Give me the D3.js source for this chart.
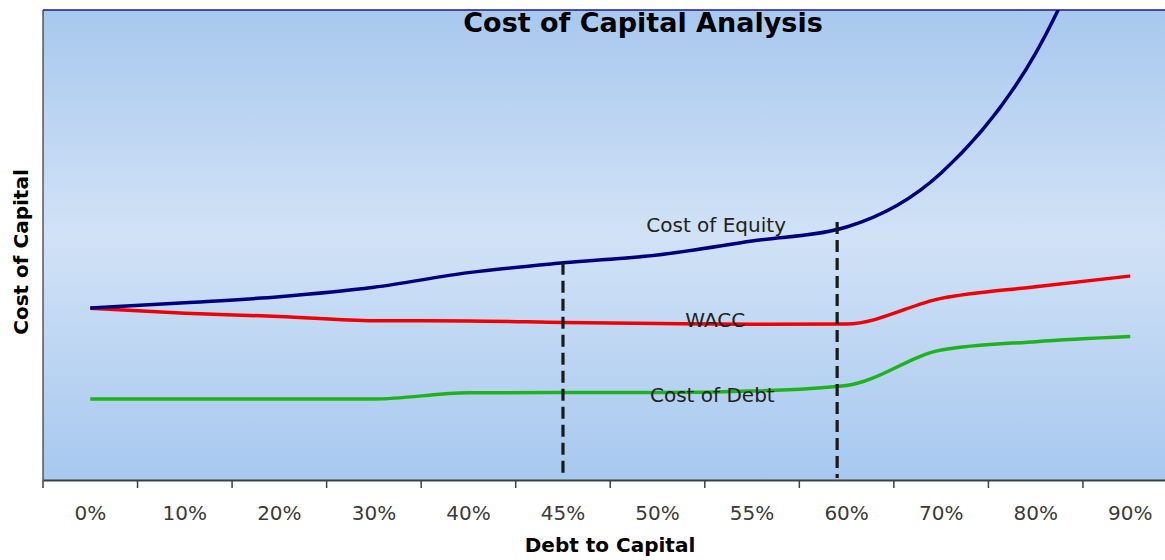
<!DOCTYPE html>
<html>
<head>
<meta charset="utf-8">
<script src="https://cdn.jsdelivr.net/npm/d3@7"></script>
<style>
  html, body { margin: 0; padding: 0; background: #ffffff; }
  svg { display: block; }
  text { font-family: "DejaVu Sans", Verdana, sans-serif; }
</style>
</head>
<body>
<svg id="chart" width="1165" height="560"></svg>
<script>
// ---- data ----
const categories = ["0%", "10%", "20%", "30%", "40%", "45%", "50%", "55%", "60%", "70%", "80%", "90%"];
const costOfEquity = [9.15, 9.43, 9.75, 10.25, 11.03, 11.55, 11.97, 12.71, 13.46, 16.33, 22.71, 34.0];
const wacc         = [9.13, 8.87, 8.70, 8.47, 8.46, 8.38, 8.32, 8.28, 8.30, 9.66, 10.28, 10.85];
const costOfDebt   = [4.31, 4.31, 4.31, 4.31, 4.64, 4.65, 4.65, 4.73, 5.03, 6.91, 7.36, 7.63];
const seriesNames  = ["Cost of Equity", "WACC", "Cost of Debt"];
// vertical marker positions (in category-index units) and their top values
const markerIndex  = [5, 7.9];
const markerTop    = [11.55, 13.72];
// in-chart label anchors (category index, value)
const labelIndex   = [6.62, 6.61, 6.58];
const labelValue   = [13.5, 8.45, 4.45];

// ---- layout ----
const svg = d3.select("#chart");
const W = 1165, H = 560;
const plot = { left: 43, top: 10, right: 1177.5, bottom: 480 };

const x = d3.scaleBand().domain(categories).range([plot.left, plot.right]).paddingInner(0).paddingOuter(0);
const xIdx = d3.scaleLinear().domain([-0.5, categories.length - 0.5]).range([plot.left, plot.right]);
const y = d3.scaleLinear().domain([0, 25]).range([plot.bottom, plot.top]);

// background gradient
const defs = svg.append("defs");
const grad = defs.append("linearGradient").attr("id", "bg").attr("x1", 0).attr("y1", 0).attr("x2", 0).attr("y2", 1);
grad.append("stop").attr("offset", "0%").attr("stop-color", "#a8c8ee");
grad.append("stop").attr("offset", "48%").attr("stop-color", "#d1e2f6");
grad.append("stop").attr("offset", "100%").attr("stop-color", "#a7c8ef");
defs.append("clipPath").attr("id", "clip").append("rect")
  .attr("x", plot.left).attr("y", plot.top)
  .attr("width", plot.right - plot.left).attr("height", plot.bottom - plot.top);

svg.append("rect")
  .attr("x", plot.left).attr("y", plot.top)
  .attr("width", plot.right - plot.left).attr("height", plot.bottom - plot.top)
  .attr("fill", "url(#bg)");

// top border
svg.append("line").attr("x1", plot.left).attr("x2", W).attr("y1", plot.top).attr("y2", plot.top)
  .attr("stroke", "#1a1a8a").attr("stroke-width", 1.5);
// left border
svg.append("line").attr("x1", plot.left).attr("x2", plot.left).attr("y1", plot.top).attr("y2", plot.bottom)
  .attr("stroke", "#333").attr("stroke-width", 1.2);

// x axis
const xAxis = d3.axisBottom(x).tickSize(0).tickPadding(0);
const gx = svg.append("g").attr("transform", `translate(0,${plot.bottom})`).call(xAxis);
gx.select(".domain").attr("stroke", "#404040").attr("stroke-width", 2);
gx.selectAll(".tick text").attr("dy", 0).attr("y", 40)
  .attr("font-size", 20).attr("fill", "#3a3a3a")
  .attr("font-family", "DejaVu Sans, Verdana, sans-serif");
// tick marks at band boundaries
const boundaries = categories.map(c => x(c)).concat([x(categories[categories.length - 1]) + x.bandwidth()]);
gx.selectAll(".bound").data(boundaries).enter().append("line")
  .attr("class", "bound")
  .attr("x1", d => d).attr("x2", d => d).attr("y1", 0).attr("y2", 8)
  .attr("stroke", "#404040").attr("stroke-width", 1.5);

// lines
const cx = c => x(c) + x.bandwidth() / 2;
const lineGen = d3.line().x((d, i) => cx(categories[i])).y(d => y(d)).curve(d3.curveMonotoneX);
const gLines = svg.append("g").attr("clip-path", "url(#clip)");
const seriesData = [costOfDebt, wacc, costOfEquity];
const seriesColors = ["#1db31d", "#ee0000", "#00007f"];
gLines.selectAll("path").data(seriesData).enter().append("path")
  .attr("d", d => lineGen(d))
  .attr("fill", "none")
  .attr("stroke", (d, i) => seriesColors[i])
  .attr("stroke-width", 3.5)
  .attr("stroke-linejoin", "round");

// dashed markers
svg.append("g").selectAll("line").data(markerIndex).enter().append("line")
  .attr("x1", d => xIdx(d)).attr("x2", d => xIdx(d))
  .attr("y1", (d, i) => y(markerTop[i])).attr("y2", plot.bottom - 2)
  .attr("stroke", "#1a1a1a").attr("stroke-width", 3.2)
  .attr("stroke-dasharray", "12,6");

// in-chart labels
svg.append("g").selectAll("text").data(seriesNames).enter().append("text")
  .attr("x", (d, i) => xIdx(labelIndex[i]))
  .attr("y", (d, i) => y(labelValue[i]))
  .attr("text-anchor", "middle")
  .attr("dominant-baseline", "middle")
  .attr("font-size", 20)
  .attr("fill", "#222")
  .text(d => d);

// title
svg.append("text").attr("x", 643).attr("y", 24)
  .attr("text-anchor", "middle").attr("dominant-baseline", "middle")
  .attr("font-size", 27).attr("font-weight", "bold").attr("fill", "#000")
  .text("Cost of Capital Analysis");

// axis titles
svg.append("text").attr("x", 610).attr("y", 546)
  .attr("text-anchor", "middle").attr("dominant-baseline", "middle")
  .attr("font-size", 20).attr("font-weight", "bold").attr("fill", "#000")
  .text("Debt to Capital");
svg.append("text").attr("transform", "translate(22,252) rotate(-90)")
  .attr("text-anchor", "middle").attr("dominant-baseline", "middle")
  .attr("font-size", 20).attr("font-weight", "bold").attr("fill", "#000")
  .text("Cost of Capital");
</script>
</body>
</html>
